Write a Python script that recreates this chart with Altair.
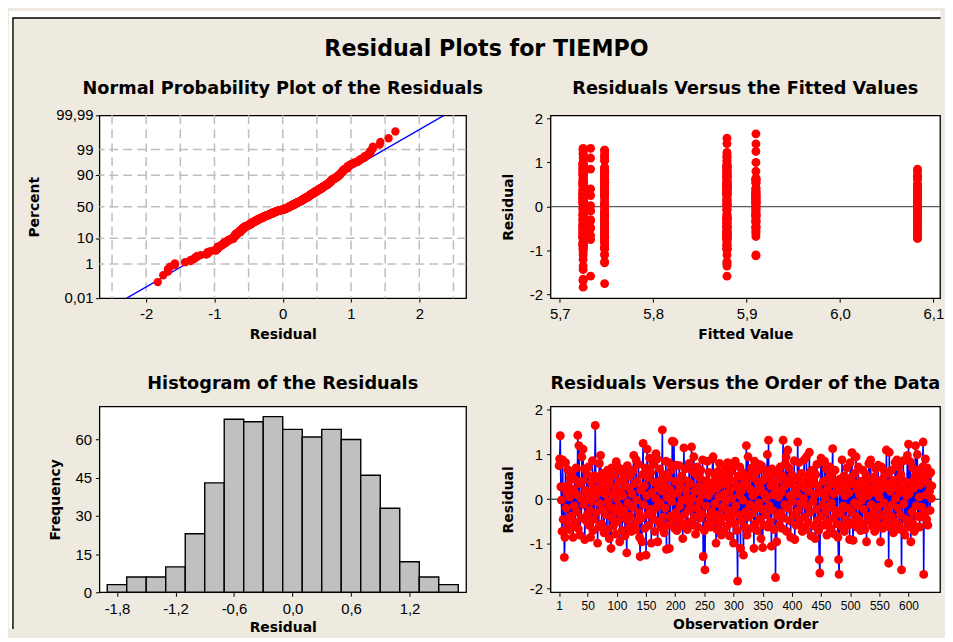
import altair as alt
import pandas as pd
from statistics import NormalDist, mean, stdev

# Residuals in observation order
residuals = [
    0.75, 0.90, 1.42, 0.28, -0.02, -0.72, 0.88, -0.45, 0.27, -1.30, -0.85, 0.82, -0.20, 0.15, -0.55, 0.66, 0.31, -0.68, 0.05, 0.48,
    -0.38, 0.58, -0.62, 0.12, -0.85, 0.22, -0.15, 0.44, -0.52, 0.70, -0.28, 0.10, 1.43, -0.66, 1.20, 0.35, -0.80, 0.02, -0.42, 0.95,
    0.40, 1.12, -0.12, 0.68, -0.90, 0.20, -0.48, 0.05, 0.55, -0.33, 0.72, -0.58, 0.15, -0.25, -0.85, 0.38, -0.05, 0.86, -0.70, 0.25,
    -0.45, 0.52, 1.65, 0.08, -0.30, 0.45, -0.98, 0.18, -0.62, 0.80, -0.10, 0.98, 0.30, -0.55, 0.58, -0.22, 0.42, -0.75, 0.12, 0.50,
    -0.35, 0.22, -0.68, 0.65, -0.05, 0.35, -0.88, 0.48, -0.18, -1.10, 0.70, -0.42, 0.10, -0.60, 0.55, -0.28, 0.28, -0.78, 0.84, 0.02,
    -0.50, 0.72, -0.15, 0.40, -0.95, 0.18, -0.32, 0.60, -0.70, 0.08, 0.45, -0.25, 0.68, -0.82, 0.30, -0.45, -1.20, 0.75, -0.08, 0.50,
    -0.62, 0.25, -0.38, 0.58, -0.72, 0.12, -0.18, 0.65, 0.98, -0.55, 0.35, -0.68, 0.88, -0.02, 0.40, -0.48, 0.78, -0.30, -0.85, -1.28,
    0.20, -0.42, -0.95, 0.55, 1.25, -0.12, 0.30, -0.65, 0.70, -1.25, 0.08, 1.12, -0.35, 0.48, -0.58, 0.92, -0.22, 0.60, -0.98, 0.15,
    -0.28, 0.78, -0.45, 0.38, -0.72, 0.02, 1.02, -0.18, 0.90, -0.95, 0.25, -0.52, 0.68, -0.08, 0.42, -0.62, 0.18, 1.55, -0.40, 0.55,
    -0.75, 0.32, -0.20, 0.85, -1.12, 0.05, -0.58, 0.48, 0.82, -1.10, 0.22, -0.38, 0.65, -0.05, 1.30, -0.48, 0.12, 1.28, -0.65, 0.40,
    -0.30, 0.76, -0.70, 0.15, 0.38, -0.45, 0.75, -0.15, 0.28, -0.60, 0.52, -0.02, -0.88, 0.45, 1.15, -0.35, 0.68, -0.55, 0.20, 0.05,
    -0.68, 0.40, -0.25, 0.80, -0.10, 0.35, -0.50, 1.17, 0.02, 0.62, -0.58, 0.95, -0.40, 0.18, -0.78, 0.55, -0.20, 0.72, -0.62, 0.28,
    -0.05, 0.48, -0.42, 0.65, -0.32, 0.10, 0.88, -1.28, 0.30, -0.70, -1.58, 0.22, -0.15, 0.42, 0.85, -0.55, 0.08, 0.60, -0.38, 0.35,
    -0.62, 0.18, -0.28, 0.90, 0.95, -0.48, 0.38, -0.10, 0.52, -0.98, 0.25, -0.68, 0.62, -0.35, 0.05, 0.80, -0.52, 0.32, -0.80, 0.45,
    -0.18, 0.58, -0.72, 0.12, -0.40, 0.68, -0.05, 0.35, -0.60, 0.82, -0.25, 0.48, -0.82, 0.20, 0.62, -0.45, 0.02, 0.70, -0.30, -0.98,
    0.40, -0.55, 0.85, -0.15, 0.28, -0.70, -1.83, 0.52, -0.35, 0.10, 0.72, -1.10, 0.18, -0.48, 0.60, -0.02, -1.25, 0.35, -0.62, 0.45,
    -0.28, 1.20, -0.80, 0.30, 0.95, -0.40, 0.55, -0.12, 0.22, -0.65, 0.70, -0.32, 0.08, 0.48, -1.10, 0.85, -0.55, 0.15, -0.20, 0.62,
    -0.70, 0.38, -0.08, 0.78, -0.45, 0.25, -0.88, 0.75, -0.22, -1.08, 0.42, -0.58, 0.12, 0.65, -0.35, 0.02, 0.52, 1.00, -0.62, 1.32,
    -0.15, 0.48, -0.50, 0.30, -1.05, 0.68, -0.25, 0.10, 0.58, -0.68, 0.35, -1.75, 0.20, -0.95, 0.62, -0.38, 0.05, 0.45, -0.58, 0.72,
    -0.30, 0.15, -0.65, 0.52, 1.32, -0.42, 0.28, -0.12, 0.80, 0.95, -0.72, 0.40, 1.10, -0.20, 0.70, -0.48, 0.08, -0.85, 0.35, 0.55,
    -0.05, 0.42, -0.35, 0.86, -0.90, 0.20, -0.58, 0.48, 0.12, 1.28, -0.25, 0.82, -0.45, 0.30, -0.10, 0.58, -0.62, -0.72, 0.38, 0.02,
    0.88, -0.40, 0.25, -0.68, 0.95, -0.15, 0.50, -0.52, 0.18, 1.05, -0.30, 0.62, -0.82, 0.35, 0.65, -0.05, 0.45, -0.60, 0.10, -0.88,
    0.55, -0.22, 0.78, -0.48, 0.30, -0.70, -1.35, -1.65, 0.15, 0.92, -0.38, 0.84, -0.12, 0.40, -0.58, 0.85, 0.05, -0.30, 0.68, -0.80,
    0.22, -0.50, 0.48, -0.18, 0.72, -0.65, 0.35, -0.08, 0.58, 1.13, -0.42, 0.12, -0.78, 0.65, -0.25, 0.40, -0.55, 0.28, -0.85, -1.35,
    -1.68, 0.45, -0.32, 0.18, -0.60, 0.88, 0.25, -0.15, 0.52, -0.72, 0.08, 0.38, -0.45, 0.70, -0.20, 0.32, -0.58, 0.15, -0.90, 0.82,
    0.48, -0.28, 1.04, -0.52, -0.92, 0.35, -0.08, 0.58, -0.38, 0.95, -0.62, 0.22, -0.15, 0.72, -0.45, 0.10, 0.40, -0.70, 0.28, -0.02,
    -0.55, 0.65, -0.22, 0.42, -0.68, 0.18, 0.55, -0.95, 0.30, -0.38, 0.08, 0.80, -0.48, 0.78, 0.88, -0.12, 0.45, -0.60, 0.25, -0.30,
    0.50, -0.72, 0.15, 0.68, -0.42, 0.32, -0.18, 0.76, -0.58, 0.05, 0.40, -0.95, 0.22, 0.72, -0.35, -0.65, 0.48, -0.08, 0.62, 0.28,
    -0.48, 1.10, 0.35, -0.25, 0.58, -1.43, 1.05, -0.62, 0.18, -0.38, 0.65, -0.12, 0.42, -0.75, 0.28, -0.50, 0.82, 0.02, -0.68, 0.88,
    0.45, -0.20, 0.72, -0.58, 0.15, -0.35, 0.55, -1.58, 0.30, -0.70, 0.86, -0.10, 0.40, -0.80, 0.22, -0.45, 0.08, 0.98, -0.62, 1.23,
    0.12, -0.48, 0.84, -0.95, 0.38, -0.28, 0.70, -0.55, 0.25, -0.72, 0.52, 1.20, -0.15, 0.45, 1.00, -0.38, 0.65, 0.05, -0.62, 0.32,
    -0.40, 0.58, -0.18, 0.72, 1.28, -1.68, 0.42, -0.30, 0.90, 0.10, -0.45, 0.70, -0.58, 0.35, 0.55, 0.18, -0.25, 0.60, 0.02, 0.30,
]

# Index of the fitted value for each observation (into fit_levels)
fit_group = [
    0, 3, 4, 2, 0, 5, 3, 2, 0, 3, 0, 2, 4, 0, 3, 5, 2, 0, 3, 2,
    0, 2, 3, 5, 0, 4, 2, 3, 0, 2, 3, 0, 3, 1, 0, 2, 3, 4, 5, 0,
    1, 2, 0, 3, 2, 5, 0, 3, 4, 1, 0, 2, 3, 0, 3, 2, 4, 0, 5, 3,
    0, 3, 4, 2, 0, 5, 3, 0, 2, 4, 1, 0, 3, 2, 0, 4, 3, 1, 5, 2,
    2, 0, 3, 5, 0, 2, 3, 0, 4, 2, 3, 0, 2, 5, 3, 0, 4, 2, 0, 1,
    1, 3, 0, 2, 3, 5, 0, 4, 2, 3, 0, 5, 2, 0, 3, 4, 0, 2, 3, 0,
    0, 1, 3, 2, 0, 4, 3, 5, 0, 2, 3, 0, 2, 5, 4, 3, 0, 2, 0, 3,
    0, 3, 2, 0, 4, 5, 3, 0, 2, 2, 4, 3, 0, 5, 3, 0, 2, 3, 0, 4,
    2, 0, 3, 5, 0, 2, 3, 4, 0, 2, 3, 0, 5, 3, 2, 4, 0, 3, 2, 0,
    3, 0, 2, 5, 4, 3, 0, 2, 3, 0, 4, 5, 2, 3, 0, 1, 0, 2, 5, 3,
    0, 3, 2, 4, 0, 3, 2, 5, 0, 3, 4, 2, 0, 3, 2, 0, 3, 4, 5, 0,
    2, 0, 3, 5, 1, 2, 0, 3, 4, 0, 2, 3, 5, 0, 3, 2, 4, 0, 3, 5,
    0, 3, 2, 0, 4, 3, 2, 2, 5, 0, 3, 0, 2, 4, 1, 3, 0, 2, 5, 3,
    3, 0, 2, 3, 0, 4, 5, 2, 0, 3, 2, 0, 4, 3, 5, 2, 0, 3, 2, 0,
    0, 2, 3, 5, 0, 3, 4, 0, 2, 3, 5, 0, 2, 3, 4, 0, 2, 3, 1, 0,
    2, 0, 3, 5, 0, 2, 0, 3, 4, 0, 2, 3, 5, 0, 3, 4, 3, 0, 2, 5,
    3, 0, 2, 5, 3, 0, 2, 4, 0, 3, 2, 5, 0, 3, 4, 0, 2, 3, 0, 4,
    5, 0, 3, 2, 0, 4, 3, 0, 2, 2, 3, 0, 5, 2, 4, 3, 0, 4, 3, 0,
    0, 3, 2, 4, 0, 5, 3, 0, 2, 3, 4, 2, 0, 3, 2, 5, 0, 3, 2, 0,
    3, 0, 2, 5, 1, 0, 3, 4, 2, 0, 3, 5, 1, 0, 2, 3, 4, 0, 5, 2,
    0, 3, 2, 0, 3, 4, 0, 2, 5, 2, 3, 0, 4, 3, 0, 2, 3, 5, 0, 2,
    3, 0, 2, 4, 0, 5, 3, 2, 0, 3, 2, 5, 0, 4, 3, 0, 2, 3, 5, 0,
    2, 0, 3, 5, 0, 2, 0, 0, 4, 3, 2, 0, 5, 3, 4, 2, 0, 3, 5, 0,
    0, 3, 2, 5, 0, 3, 4, 2, 0, 3, 5, 0, 2, 3, 4, 0, 2, 5, 0, 3,
    0, 2, 3, 4, 0, 3, 5, 2, 0, 3, 4, 2, 0, 3, 5, 0, 2, 3, 0, 2,
    3, 0, 2, 5, 0, 3, 4, 0, 2, 3, 0, 5, 2, 0, 3, 4, 2, 0, 3, 5,
    0, 2, 3, 4, 0, 5, 3, 2, 0, 3, 4, 0, 2, 3, 0, 5, 2, 3, 4, 0,
    2, 0, 3, 5, 0, 2, 4, 3, 0, 2, 5, 3, 0, 2, 4, 0, 3, 5, 2, 0,
    3, 0, 2, 5, 3, 0, 2, 0, 4, 3, 0, 2, 5, 3, 0, 4, 2, 3, 0, 0,
    2, 0, 3, 5, 0, 2, 3, 1, 4, 0, 2, 5, 3, 0, 2, 3, 4, 0, 2, 3,
    0, 3, 2, 0, 5, 3, 0, 2, 4, 3, 0, 2, 5, 3, 0, 2, 4, 3, 0, 5,
    2, 0, 3, 5, 0, 0, 2, 4, 3, 0, 5, 2, 3, 0, 4, 2, 3, 0, 5, 2,
]

fit_levels = [5.725, 5.733, 5.748, 5.879, 5.910, 6.083]

# Histogram
hist_mid = [-1.8, -1.6, -1.4, -1.2, -1.0, -0.8, -0.6, -0.4, -0.2, 0.0,
            0.2, 0.4, 0.6, 0.8, 1.0, 1.2, 1.4, 1.6]
hist_count = [3, 6, 6, 10, 23, 43, 68, 67, 69, 64, 61, 64, 60, 46, 33, 12, 6, 3]
hist_width = 0.2

# Axis ticks / grid
pct_ticks = [0.01, 1, 10, 50, 90, 99, 99.99]
pct_labels = ["0,01", "1", "10", "50", "90", "99", "99,99"]
pct_grid = [1, 10, 50, 90, 99]
res_grid = [-2.5, -2.0, -1.5, -1.0, -0.5, 0.0, 0.5, 1.0, 1.5, 2.0, 2.5]
res_ticks = [-2, -1, 0, 1, 2]
fit_ticks = [5.7, 5.8, 5.9, 6.0, 6.1]
hist_ticks = [-1.8, -1.2, -0.6, 0.0, 0.6, 1.2]
freq_ticks = [0, 15, 30, 45, 60]
obs_ticks = [1, 50, 100, 150, 200, 250, 300, 350, 400, 450, 500, 550, 600]

assert len(residuals) == len(fit_group) == 640, (len(residuals), len(fit_group))

nd = NormalDist()
n = len(residuals)

# ---------- data frames ----------
df_obs = pd.DataFrame({
    "obs": list(range(1, n + 1)),
    "res": residuals,
    "fit": [fit_levels[k] for k in fit_group],
})
srt = sorted(residuals)
df_npp = pd.DataFrame({
    "res": srt,
    "z": [nd.inv_cdf((i - 0.3) / (n + 0.4)) for i in range(1, n + 1)],
})
zmax = nd.inv_cdf(0.9999)
m, s = mean(residuals), stdev(residuals)
df_fitline = pd.DataFrame({"res": [m - s * zmax, m + s * zmax], "z": [-zmax, zmax]})
df_gx = pd.DataFrame({"gx": res_grid})
df_gz = pd.DataFrame({"gz": [nd.inv_cdf(p / 100) for p in pct_grid]})
z_ticks = [nd.inv_cdf(p / 100) for p in pct_ticks]
df_plab = pd.DataFrame({"z": z_ticks, "lab": pct_labels})
df_hist = pd.DataFrame({
    "lo": [c - hist_width / 2 for c in hist_mid],
    "hi": [c + hist_width / 2 for c in hist_mid],
    "count": hist_count,
})
df_zero = pd.DataFrame({"y": [0]})

int_expr = "datum.value < 0 ? '-' + format(-datum.value, 'd') : format(datum.value, 'd')"
dec_expr = ("datum.value < -0.0001 ? '-' + replace(format(-datum.value, '.1f'), '.', ',') "
            ": replace(format(abs(datum.value), '.1f'), '.', ',')")
fit_expr = "replace(format(datum.value, '.1f'), '.', ',')"
obs_expr = "'' + datum.value"

LABEL_FONT = "Liberation Sans"
TITLE_FONT = "DejaVu Sans"
RED = "#FF0000"
BLUE = "#0000FF"


def axis(values, expr, title, tx, ty, size=15, pad=4, labels=True):
    kw = dict(
        values=values, title=title,
        tickSize=4, tickColor="black", tickWidth=1, domain=False, grid=False,
        labelFont=LABEL_FONT, labelFontSize=size, labelColor="black",
        labelPadding=pad, labelOverlap=False, labelFlush=False, labels=labels,
        titleFont=TITLE_FONT, titleFontSize=14, titleFontWeight="bold",
        titleColor="black", titleX=tx, titleY=ty, titleBaseline="middle",
    )
    if expr:
        kw["labelExpr"] = expr
    return alt.Axis(**kw)


def text_layer(txt, x, y, size=17.8):
    return alt.Chart(pd.DataFrame({"t": [txt]})).mark_text(
        font=TITLE_FONT, fontWeight="bold", fontSize=size, color="black",
        align="center", baseline="alphabetic",
    ).encode(x=alt.value(x), y=alt.value(y), text="t:N")


W1, W2, H1, H2 = 369, 392, 184, 187

# ---------- Panel 1: normal probability plot ----------
xs1 = alt.Scale(domain=[-2.685, 2.685], nice=False, zero=False)
ys1 = alt.Scale(domain=[-zmax, zmax], nice=False, zero=False)
x1 = alt.X("res:Q", scale=xs1, axis=axis(res_ticks, int_expr, "Residual", W1 / 2, 37))
y1 = alt.Y("z:Q", scale=ys1, axis=axis(z_ticks, None, "Percent", -65, H1 / 2, labels=False))

grid_v = alt.Chart(df_gx).mark_rule(color="#BEBEBE", strokeWidth=1.5, strokeDash=[9, 5]).encode(
    x=alt.X("gx:Q", scale=xs1))
grid_h = alt.Chart(df_gz).mark_rule(color="#BEBEBE", strokeWidth=1.5, strokeDash=[9, 5]).encode(
    y=alt.Y("gz:Q", scale=ys1))
fitline = alt.Chart(df_fitline).mark_line(color=BLUE, strokeWidth=1.3).encode(x=x1, y=y1)
npp_pts = alt.Chart(df_npp).mark_circle(color=RED, opacity=1, size=70).encode(x=x1, y=y1)
pct_text = alt.Chart(df_plab).mark_text(
    font=LABEL_FONT, fontSize=15, color="black", align="right", baseline="middle",
).encode(x=alt.value(-6), y=alt.Y("z:Q", scale=ys1), text="lab:N")

deco = pd.DataFrame({"k": [0]})
white_top = alt.Chart(deco).mark_rect(color="white").encode(
    x=alt.value(-91), x2=alt.value(846.6), y=alt.value(-105), y2=alt.value(-98.6))
white_left = alt.Chart(deco).mark_rect(color="white").encode(
    x=alt.value(-91), x2=alt.value(-87.6), y=alt.value(-105), y2=alt.value(517))
border_top = alt.Chart(deco).mark_rule(color="black", strokeWidth=1.4).encode(
    x=alt.value(-87.6), x2=alt.value(846.6), y=alt.value(-98))
border_left = alt.Chart(deco).mark_rule(color="black", strokeWidth=1.4).encode(
    x=alt.value(-87), y=alt.value(-98), y2=alt.value(517))

p1 = alt.layer(
    white_top, white_left, border_top, border_left,
    grid_v, grid_h, fitline, npp_pts, pct_text,
    text_layer("Residual Plots for TIEMPO", 389.5, -59.7, size=22.3),
    text_layer("Normal Probability Plot of the Residuals", W1 / 2, -21.5),
).properties(width=W1, height=H1)

# ---------- Panel 2: residuals vs fitted ----------
xs2 = alt.Scale(domain=[5.6901, 6.1071], nice=False, zero=False)
ys2 = alt.Scale(domain=[-2.08, 2.07], nice=False, zero=False)
zero2 = alt.Chart(df_zero).mark_rule(color="#5A5A5A", strokeWidth=1.3).encode(
    y=alt.Y("y:Q", scale=ys2))
fit_pts = alt.Chart(df_obs).mark_circle(color=RED, opacity=1, size=80).encode(
    x=alt.X("fit:Q", scale=xs2, axis=axis(fit_ticks, fit_expr, "Fitted Value", W2 / 2, 37)),
    y=alt.Y("res:Q", scale=ys2, axis=axis(res_ticks, int_expr, "Residual", -42, H1 / 2)),
)
p2 = alt.layer(
    zero2, fit_pts,
    text_layer("Residuals Versus the Fitted Values", W2 / 2, -21.5),
).properties(width=W2, height=H1)

# ---------- Panel 3: histogram ----------
xs3 = alt.Scale(domain=[-1.98, 1.78], nice=False, zero=False)
ys3 = alt.Scale(domain=[0, 73], nice=False, zero=False)
bars = alt.Chart(df_hist).mark_rect(color="#C0C0C0", stroke="black", strokeWidth=1.4).encode(
    x=alt.X("lo:Q", scale=xs3, axis=axis(hist_ticks, dec_expr, "Residual", W1 / 2, 35.5, pad=5)),
    x2="hi:Q",
    y=alt.Y("count:Q", scale=ys3, axis=axis(freq_ticks, int_expr, "Frequency", -44, H2 / 2)),
    y2=alt.datum(0),
)
p3 = alt.layer(
    bars,
    text_layer("Histogram of the Residuals", W1 / 2, -18),
).properties(width=W1, height=H2)

# ---------- Panel 4: residuals vs order ----------
xs4 = alt.Scale(domain=[-13.7, 654], nice=False, zero=False)
ys4 = alt.Scale(domain=[-2.08, 2.075], nice=False, zero=False)
x4 = alt.X("obs:Q", scale=xs4, axis=axis(obs_ticks, obs_expr, "Observation Order", W2 / 2, 32.5, size=12, pad=4))
y4 = alt.Y("res:Q", scale=ys4, axis=axis(res_ticks, int_expr, "Residual", -42, H2 / 2))
zero4 = alt.Chart(df_zero).mark_rule(color="#5A5A5A", strokeWidth=1.3).encode(
    y=alt.Y("y:Q", scale=ys4))
ord_line = alt.Chart(df_obs).mark_line(color=BLUE, strokeWidth=1.6).encode(x=x4, y=y4, order="obs:Q")
ord_pts = alt.Chart(df_obs).mark_circle(color=RED, opacity=1, size=80).encode(x=x4, y=y4)
p4 = alt.layer(
    zero4, ord_line, ord_pts,
    text_layer("Residuals Versus the Order of the Data", W2 / 2, -18),
).properties(width=W2, height=H2)

chart = alt.concat(
    p1, p2, p3, p4, columns=2,
    spacing={"row": 109, "column": 85}, bounds="flush",
).properties(
    background="#EEEAE0",
    padding={"left": 0, "top": 0, "right": 0, "bottom": 0},
).configure_view(fill="white", stroke="black", strokeWidth=1.3)

chart.save("out.html", embed_options={"renderer": "svg", "actions": False})
